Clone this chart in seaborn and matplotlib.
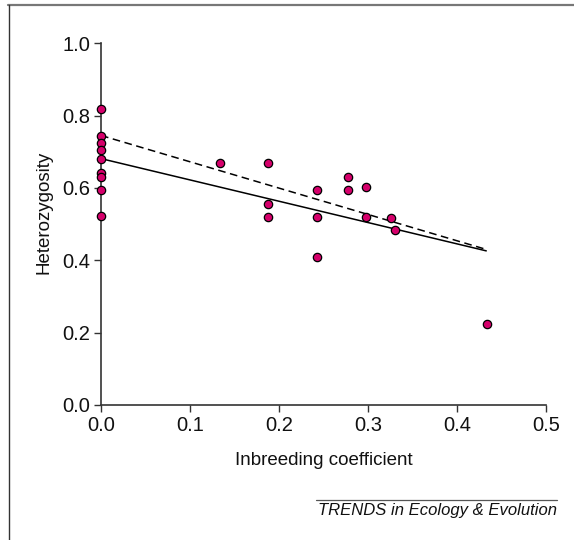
import matplotlib
matplotlib.use("Agg")
import matplotlib.pyplot as plt
import seaborn as sns
import pandas as pd
from matplotlib.lines import Line2D

# Data
inbreeding = [0.0, 0.0, 0.0, 0.0, 0.0, 0.0, 0.0, 0.0, 0.0,
              0.134, 0.188, 0.188, 0.188,
              0.243, 0.243, 0.243,
              0.278, 0.278, 0.298, 0.298,
              0.326, 0.330, 0.434]
heterozygosity = [0.817, 0.743, 0.723, 0.704, 0.681, 0.642, 0.630, 0.593, 0.522,
                  0.668, 0.668, 0.556, 0.521,
                  0.594, 0.519, 0.410,
                  0.631, 0.593, 0.602, 0.521,
                  0.518, 0.484, 0.224]

fit_x = [0.0, 0.433]
fit_solid_y = [0.681, 0.426]
fit_dashed_y = [0.745, 0.430]

x_ticks = [0.0, 0.1, 0.2, 0.3, 0.4, 0.5]
y_ticks = [0.0, 0.2, 0.4, 0.6, 0.8, 1.0]

sns.set_theme(style="ticks")
plt.rcParams['font.family'] = ['Liberation Sans', 'DejaVu Sans']

df = pd.DataFrame({"x": inbreeding, "y": heterozygosity})
fit_df = pd.DataFrame({"x": fit_x, "solid": fit_solid_y, "dashed": fit_dashed_y})

fig = plt.figure(figsize=(5.74, 5.4), dpi=100)
ax = fig.add_axes([0.176, 0.25, 0.775, 0.670])

sns.lineplot(data=fit_df, x="x", y="dashed", ax=ax, color="black",
             linewidth=1.1, linestyle=(0, (5, 3)))
sns.lineplot(data=fit_df, x="x", y="solid", ax=ax, color="black", linewidth=1.1)
sns.scatterplot(data=df, x="x", y="y", ax=ax, color="#d5006b", edgecolor="black",
                linewidth=0.9, s=36, zorder=5, clip_on=False)

ax.set_xlim(0, 0.5)
ax.set_ylim(0, 1.0)
ax.set_xticks(x_ticks)
ax.set_yticks(y_ticks)
ax.set_xticklabels([f"{t:.1f}" for t in x_ticks])
ax.set_yticklabels([f"{t:.1f}" for t in y_ticks])
ax.tick_params(axis="both", labelsize=14.5, length=5, width=1, color="#333333",
               colors="#111111", pad=3)
ax.tick_params(axis="both", colors="#111111", color="#333333")
for side in ["top", "right"]:
    ax.spines[side].set_visible(False)
for side in ["left", "bottom"]:
    ax.spines[side].set_color("#333333")
    ax.spines[side].set_linewidth(1.2)
ax.set_xlabel("Inbreeding coefficient", fontsize=13.5, labelpad=12, color="#111111")
ax.set_ylabel("Heterozygosity", fontsize=13.5, color="#111111")
ax.yaxis.set_label_coords(-0.108, 0.533)

# Frame lines (top and left)
fig.add_artist(Line2D([8/574, 1.0], [1 - 5/540, 1 - 5/540], transform=fig.transFigure,
                      color="#777777", linewidth=1.6))
fig.add_artist(Line2D([9/574, 9/574], [0.0, 1 - 5/540], transform=fig.transFigure,
                      color="#333333", linewidth=1.0))

# Source line and label
fig.add_artist(Line2D([316/574, 557/574], [1 - 499.5/540, 1 - 499.5/540],
                      transform=fig.transFigure, color="#555555", linewidth=0.9))
fig.text(557/574, 1 - 511/540, "TRENDS in Ecology & Evolution", ha="right", va="center",
         fontsize=12, style="italic", color="#111111")

fig.savefig("out.png", dpi=100)
